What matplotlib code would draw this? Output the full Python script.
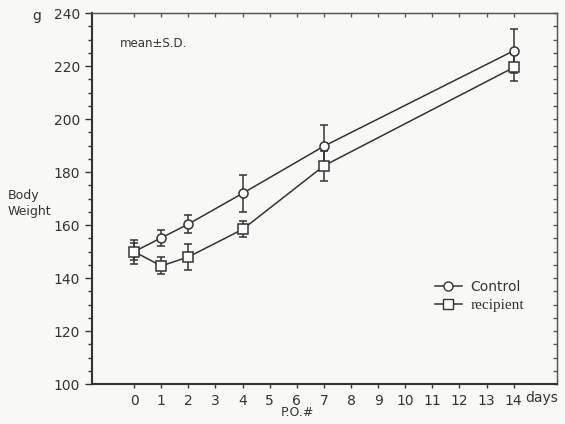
import matplotlib.pyplot as plt
from matplotlib.lines import Line2D
from matplotlib.ticker import MultipleLocator

# days after operation
days = [0, 1, 2, 4, 7, 14]

# body weight (g), mean and S.D.
control_mean = [150, 155.2, 160.4, 172.0, 189.8, 225.8]
control_sd = [4.5, 3.0, 3.5, 7.0, 8.0, 8.4]
recipient_mean = [150, 144.6, 148.0, 158.4, 182.4, 219.5]
recipient_sd = [3.3, 3.2, 5.0, 3.0, 5.6, 5.2]

x_ticks = list(range(0, 15))
y_ticks = [100, 120, 140, 160, 180, 200, 220, 240]

ink = '#333333'
plt.rcParams['font.family'] = ['DejaVu Sans']

fig = plt.figure(figsize=(5.65, 4.24), dpi=100, facecolor='#f8f8f6')
ax = fig.add_axes([0.163, 0.094, 0.823, 0.875])
ax.set_facecolor('#f8f8f6')

ax.errorbar(days, control_mean, yerr=control_sd, color=ink, lw=1.1,
            marker='o', ms=6.5, mfc='white', mec=ink, mew=1.1,
            capsize=3, elinewidth=1.1, zorder=3)
ax.errorbar(days, recipient_mean, yerr=recipient_sd, color=ink, lw=1.1,
            marker='s', ms=7, mfc='white', mec=ink, mew=1.1,
            capsize=3, elinewidth=1.1, zorder=3)

ax.set_xlim(-1.55, 15.6)
ax.set_ylim(100, 240)
ax.set_xticks(x_ticks)
ax.set_yticks(y_ticks)
ax.yaxis.set_minor_locator(MultipleLocator(5))

ax.tick_params(axis='y', which='major', left=True, right=False, direction='out',
               length=5, width=1, colors=ink, labelsize=10)
ax.tick_params(axis='y', which='minor', left=True, right=False, direction='out',
               length=3, width=1, colors=ink)
ax.tick_params(axis='x', which='major', direction='out', length=3, width=1,
               colors=ink, labelsize=10, pad=4)

# inward ticks on the top and right frame
top = ax.secondary_xaxis('top')
top.set_xticks(x_ticks)
top.tick_params(direction='in', length=3, width=1, colors='#555555',
                labeltop=False)
right = ax.secondary_yaxis('right')
right.yaxis.set_major_locator(MultipleLocator(5))
right.tick_params(direction='in', length=3, width=1, colors='#555555',
                  labelright=False)
top.spines['top'].set_color('#555555')
right.spines['right'].set_color('#555555')

for side in ['left', 'bottom']:
    ax.spines[side].set_linewidth(1.5)
    ax.spines[side].set_color(ink)
for side in ['top', 'right']:
    ax.spines[side].set_linewidth(1.0)
    ax.spines[side].set_color('#555555')

ax.text(0.06, 0.91, 'mean\u00b1S.D.', transform=ax.transAxes, fontsize=8.5, color=ink)
fig.text(32 / 565, 1 - 16 / 424, 'g', fontsize=10, color=ink, va='center')
fig.text(8 / 565, 1 - 204 / 424, 'Body\nWeight', fontsize=9, color=ink,
         va='center', ha='left', linespacing=1.3)
fig.text(525 / 565, 1 - 398 / 424, 'days', fontsize=10, color=ink, va='center')
fig.text(297 / 565, 1 - 413 / 424, 'P.O.#', fontsize=9, color=ink,
         va='center', ha='center')

handles = [
    Line2D([], [], color=ink, lw=1.1, marker='o', ms=6.5, mfc='white', mec=ink),
    Line2D([], [], color=ink, lw=1.1, marker='s', ms=7, mfc='white', mec=ink),
]
leg = fig.legend(handles, ['Control', 'recipient'], loc='upper left',
                 bbox_to_anchor=(422 / 565, 1 - 267 / 424), frameon=False,
                 handlelength=2.0, handletextpad=0.6, labelspacing=0.4,
                 fontsize=10)
for t in leg.get_texts():
    t.set_color(ink)
leg.get_texts()[1].set_fontfamily('Liberation Serif')
leg.get_texts()[1].set_fontsize(11)

fig.savefig('out.png', dpi=100, facecolor=fig.get_facecolor())
